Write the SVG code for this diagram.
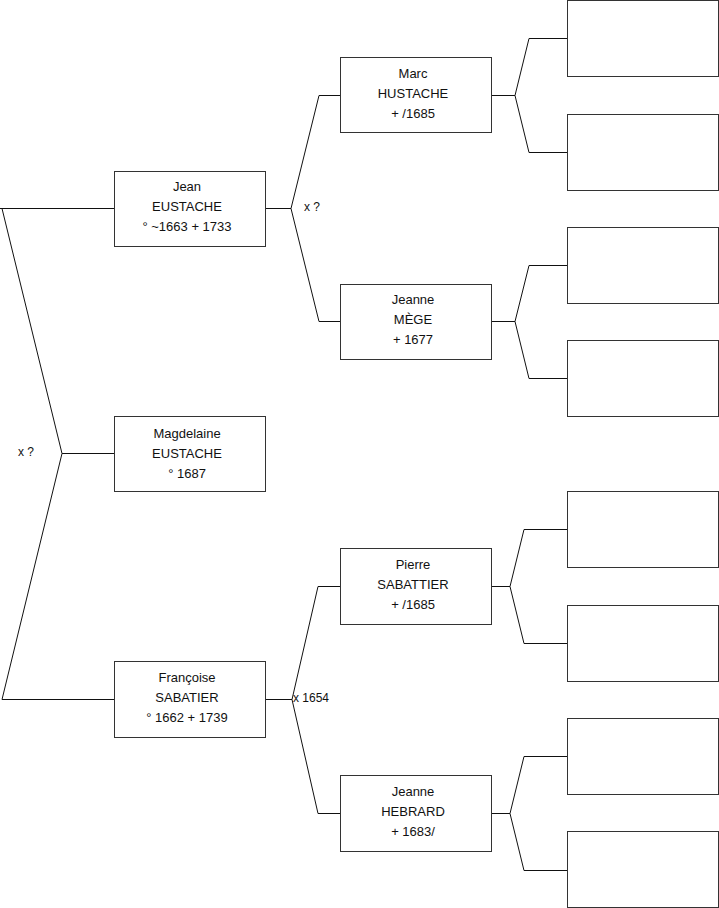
<svg xmlns="http://www.w3.org/2000/svg" width="719" height="908" viewBox="0 0 719 908">
<style>
.box{fill:#fff;stroke:#333;stroke-width:1}
.t{font-family:"Liberation Sans",Arial,sans-serif;font-size:13px;fill:#111;text-anchor:middle}
.lbl{font-family:"Liberation Sans",Arial,sans-serif;font-size:12px;fill:#111}
.c{fill:none;stroke:#111;stroke-width:1}
</style>
<rect width="719" height="908" fill="#fff"/>
<g id="connectors">
<path class="c" d="M0,208.5H114.5M2,208.5L62,453.5L2,699.5M62,453.5H114.5M2,699.5H114.5"/>
<path class="c" d="M265.5,208.5H291M319,95.5L291,208.5L319,321.5M319,95.5H340.5M319,321.5H340.5"/>
<path class="c" d="M265.5,699.5H292M318,586.5L292,699.5L318,813.5M318,586.5H340.5M318,813.5H340.5"/>
<path class="c" d="M491.5,95.5H515M529,38.5L515,95.5L529,152.5M529,38.5H567.5M529,152.5H567.5"/>
<path class="c" d="M491.5,321.5H515M529,265.5L515,321.5L529,378.5M529,265.5H567.5M529,378.5H567.5"/>
<path class="c" d="M491.5,586.5H510M524,529.5L510,586.5L524,643.5M524,529.5H567.5M524,643.5H567.5"/>
<path class="c" d="M491.5,813.5H510M524,756.5L510,813.5L524,870.5M524,756.5H567.5M524,870.5H567.5"/>
<text class="lbl" x="18" y="456">x ?</text>
<text class="lbl" x="304" y="211">x ?</text>
<text class="lbl" x="293" y="702">x 1654</text>
</g>
<g id="jean"><rect class="box" x="114.5" y="171.5" width="151" height="75"/>
<text class="t" x="187" y="191">Jean</text><text class="t" x="187" y="211">EUSTACHE</text><text class="t" x="187" y="231">° ~1663 + 1733</text></g>
<g id="magdelaine"><rect class="box" x="114.5" y="416.5" width="151" height="75"/>
<text class="t" x="187" y="438">Magdelaine</text><text class="t" x="187" y="458">EUSTACHE</text><text class="t" x="187" y="478">° 1687</text></g>
<g id="francoise"><rect class="box" x="114.5" y="661.5" width="151" height="76"/>
<text class="t" x="187" y="682">Françoise</text><text class="t" x="187" y="702">SABATIER</text><text class="t" x="187" y="722">° 1662 + 1739</text></g>
<g id="marc"><rect class="box" x="340.5" y="57.5" width="151" height="75"/>
<text class="t" x="413" y="78">Marc</text><text class="t" x="413" y="98">HUSTACHE</text><text class="t" x="413" y="118">+ /1685</text></g>
<g id="jeanne-mege"><rect class="box" x="340.5" y="284.5" width="151" height="75"/>
<text class="t" x="413" y="304">Jeanne</text><text class="t" x="413" y="324">MÈGE</text><text class="t" x="413" y="344">+ 1677</text></g>
<g id="pierre"><rect class="box" x="340.5" y="548.5" width="151" height="76"/>
<text class="t" x="413" y="569">Pierre</text><text class="t" x="413" y="589">SABATTIER</text><text class="t" x="413" y="609">+ /1685</text></g>
<g id="jeanne-hebrard"><rect class="box" x="340.5" y="775.5" width="151" height="76"/>
<text class="t" x="413" y="796">Jeanne</text><text class="t" x="413" y="816">HEBRARD</text><text class="t" x="413" y="836">+ 1683/</text></g>
<g id="e1"><rect class="box" x="567.5" y="0.5" width="151" height="76"/></g>
<g id="e2"><rect class="box" x="567.5" y="114.5" width="151" height="76"/></g>
<g id="e3"><rect class="box" x="567.5" y="227.5" width="151" height="76"/></g>
<g id="e4"><rect class="box" x="567.5" y="340.5" width="151" height="76"/></g>
<g id="e5"><rect class="box" x="567.5" y="491.5" width="151" height="76"/></g>
<g id="e6"><rect class="box" x="567.5" y="605.5" width="151" height="76"/></g>
<g id="e7"><rect class="box" x="567.5" y="718.5" width="151" height="76"/></g>
<g id="e8"><rect class="box" x="567.5" y="831.5" width="151" height="76"/></g>
</svg>
